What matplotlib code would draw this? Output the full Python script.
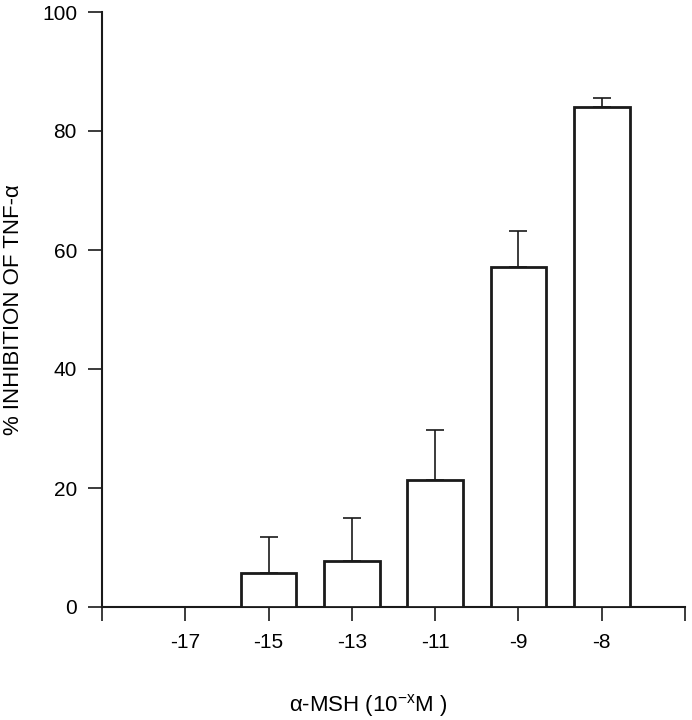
import matplotlib
matplotlib.use("Agg")
import matplotlib.pyplot as plt
import numpy as np

plt.rcParams['font.family'] = ['Liberation Sans', 'DejaVu Sans']
plt.rcParams['mathtext.fontset'] = 'custom'
plt.rcParams['mathtext.rm'] = 'Liberation Sans'
plt.rcParams['mathtext.it'] = 'Liberation Sans'

categories = ["-17", "-15", "-13", "-11", "-9", "-8"]
values = [0.0, 5.7, 7.8, 21.3, 57.1, 84.0]
errors = [0.0, 6.1, 7.1, 8.5, 6.1, 1.5]
yticks = [0, 20, 40, 60, 80, 100]

fig = plt.figure(figsize=(6.92, 7.2), dpi=100)
ax = fig.add_axes([102/692, 1-607/720, 583/692, 595/720])

pos = np.arange(1, len(categories) + 1)
ax.bar(pos, values, width=0.67, color='white', edgecolor='#1a1a1a', linewidth=2, zorder=3)
vals = np.array(values)
errs = np.array(errors)
mask = errs > 0
ax.errorbar(pos[mask], vals[mask], yerr=[np.zeros(mask.sum()), errs[mask]], fmt='none',
            ecolor='#1a1a1a', elinewidth=1.2, capsize=6.5, capthick=1.2, zorder=2)

ax.set_xlim(0, 7)
ax.set_ylim(0, 100)
ax.set_xticks(np.arange(0, len(categories) + 2))
ax.set_xticklabels([""] + categories + [""])
ax.set_yticks(yticks)
ax.set_yticklabels([str(t) for t in yticks])
ax.spines['top'].set_visible(False)
ax.spines['right'].set_visible(False)
for s in ['left', 'bottom']:
    ax.spines[s].set_linewidth(1.5)
    ax.spines[s].set_color('#1a1a1a')
ax.tick_params(axis='both', direction='out', length=10, width=1.2, labelsize=15, color='#1a1a1a')
ax.tick_params(axis='x', pad=9)
ax.tick_params(axis='y', pad=8)

ax.set_ylabel("% INHIBITION OF TNF-α", fontsize=16)
ax.yaxis.set_label_coords(-0.134, 0.5)
ax.set_xlabel("α-MSH (10$^{\\mathrm{-x}}$M )", fontsize=16)
ax.xaxis.set_label_coords(0.456, -0.143)

fig.savefig("out.png", dpi=100)
